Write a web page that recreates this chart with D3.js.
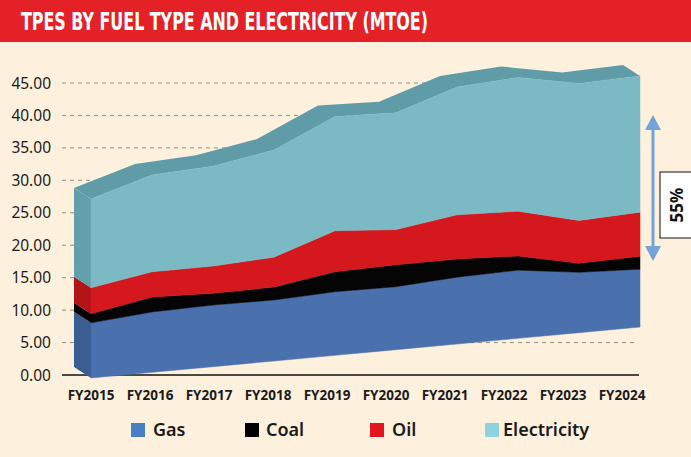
<!DOCTYPE html>
<html>
<head>
<meta charset="utf-8">
<script src="https://cdn.jsdelivr.net/npm/d3@7"></script>
<style>
  html, body { margin: 0; padding: 0; background: #fdf0dc; }
  #chart { width: 691px; height: 457px; }
</style>
</head>
<body>
<div id="chart"></div>
<script>
const categories = ["FY2015", "FY2016", "FY2017", "FY2018", "FY2019", "FY2020", "FY2021", "FY2022", "FY2023", "FY2024"];
const gas = [8.5, 9.3, 9.5, 9.4, 9.8, 9.7, 10.3, 10.5, 9.3, 8.9];
const coal = [1.4, 2.3, 1.8, 2.0, 3.1, 3.4, 2.8, 2.2, 1.4, 2.0];
const oil = [4.0, 3.9, 4.2, 4.6, 6.3, 5.4, 6.8, 6.9, 6.6, 6.8];
const electricity = [13.7, 14.9, 15.4, 16.5, 17.6, 18.0, 19.7, 20.6, 21.1, 21.0];
const yTicks = [0, 5, 10, 15, 20, 25, 30, 35, 40, 45];
const seriesNames = ["Gas", "Coal", "Oil", "Electricity"];
const shareLabel = "55%";
const title = "TPES BY FUEL TYPE AND ELECTRICITY (MTOE)";

const width = 691, height = 457;

const colors = new Map([
  ["Gas", { front: "#4a71ad", side: "#3a5d92" }],
  ["Coal", { front: "#050505", side: "#000000" }],
  ["Oil", { front: "#d5181e", side: "#b31418" }],
  ["Electricity", { front: "#7bbac5", side: "#62a0ab" }],
]);
const legendColors = new Map([
  ["Gas", "#4a7ec4"], ["Coal", "#000"], ["Oil", "#e3161f"], ["Electricity", "#8ed2df"],
]);

const rows = categories.map((c, i) => ({
  cat: c, Gas: gas[i], Coal: coal[i], Oil: oil[i], Electricity: electricity[i],
}));
const stacked = d3.stack().keys(seriesNames)(rows);

const svg = d3.select("#chart").append("svg")
  .attr("width", width).attr("height", height);

svg.append("rect").attr("width", width).attr("height", height).attr("fill", "#fdf0dc");

// header band
svg.append("rect").attr("x", 0).attr("y", 0).attr("width", width).attr("height", 42).attr("fill", "#e32127");
svg.append("text")
  .attr("x", 21).attr("y", 29.5)
  .attr("font-family", "DejaVu Sans Condensed, DejaVu Sans")
  .attr("font-weight", "bold")
  .attr("font-size", 25)
  .attr("fill", "#fff")
  .attr("textLength", 407)
  .attr("lengthAdjust", "spacingAndGlyphs")
  .text(title);

// scales
const y = d3.scaleLinear().domain([0, 45]).range([375, 83]);
const xLabel = d3.scalePoint().domain(categories).range([91, 622]);
const xFront = d3.scalePoint().domain(categories).range([91, 640]);
// tilted floor of the 3d front face
const floor = d3.scaleLinear().domain([0, categories.length - 1]).range([378, 327]);
const depth = { dx: -17, dy: -11 };

const fy = (v, i) => floor(i) + (y(v) - y(0));

// gridlines
svg.append("g")
  .selectAll("line")
  .data(yTicks.filter((t) => t > 0))
  .join("line")
  .attr("x1", 62).attr("x2", 638)
  .attr("y1", (d) => y(d)).attr("y2", (d) => y(d))
  .attr("stroke", "#7a7368")
  .attr("stroke-width", 0.8)
  .attr("stroke-dasharray", "4,4");

svg.append("line")
  .attr("x1", 62).attr("x2", 639)
  .attr("y1", y(0)).attr("y2", y(0))
  .attr("stroke", "#111").attr("stroke-width", 1.5);

// y labels
svg.append("g")
  .selectAll("text")
  .data(yTicks)
  .join("text")
  .attr("x", 51)
  .attr("y", (d) => y(d))
  .attr("dy", "0.36em")
  .attr("text-anchor", "end")
  .attr("font-family", "Noto Sans")
  .attr("font-size", 15.5)
  .attr("fill", "#1b1b1b")
  .text((d) => d3.format(".2f")(d));

// top face of the stack (depth)
const topLayer = stacked[stacked.length - 1];
const frontTop = topLayer.map((d, i) => [xFront(categories[i]), fy(d[1], i)]);
const backTop = frontTop.map(([px, py]) => [px + depth.dx, py + depth.dy]).reverse();
svg.append("path")
  .attr("d", "M" + frontTop.concat(backTop).map((p) => p.join(",")).join("L") + "Z")
  .attr("fill", "#5f9ca7");

// left side face
const x0 = xFront(categories[0]);
svg.append("g")
  .selectAll("path")
  .data(stacked)
  .join("path")
  .attr("fill", (s) => colors.get(s.key).side)
  .attr("d", (s) => {
    const a = fy(s[0][0], 0), b = fy(s[0][1], 0);
    return `M${x0},${a}L${x0},${b}L${x0 + depth.dx},${b + depth.dy}L${x0 + depth.dx},${a + depth.dy}Z`;
  });

// front faces
const area = d3.area()
  .x((d, i) => xFront(categories[i]))
  .y0((d, i) => fy(d[0], i))
  .y1((d, i) => fy(d[1], i));

svg.append("g")
  .selectAll("path")
  .data(stacked)
  .join("path")
  .attr("fill", (s) => colors.get(s.key).front)
  .attr("stroke", (s) => colors.get(s.key).front)
  .attr("stroke-width", 0.5)
  .attr("d", area);

// x labels
svg.append("g")
  .selectAll("text")
  .data(categories)
  .join("text")
  .attr("x", (d) => xLabel(d))
  .attr("y", 400)
  .attr("text-anchor", "middle")
  .attr("font-family", "Open Sans")
  .attr("font-weight", "bold")
  .attr("font-size", 13.5)
  .attr("fill", "#1b1b1b")
  .text((d) => d);

// legend
const legendX = [131, 245, 370, 485];
const lg = svg.append("g")
  .selectAll("g")
  .data(seriesNames)
  .join("g")
  .attr("transform", (d, i) => `translate(${legendX[i]},423)`);
lg.append("rect").attr("width", 14).attr("height", 14).attr("fill", (d) => legendColors.get(d));
lg.append("text")
  .attr("x", (d) => (d === "Electricity" ? 18 : d === "Coal" ? 21 : 22))
  .attr("y", 7).attr("dy", "0.36em")
  .attr("font-family", "Noto Sans")
  .attr("font-weight", 600)
  .attr("font-size", 18)
  .attr("fill", "#1b1b1b")
  .text((d) => d);

// share annotation
const arrowColor = "#73a3d8";
const ax = 653, aTop = 115, aBot = 261;
svg.append("line")
  .attr("x1", ax).attr("x2", ax).attr("y1", aTop + 12).attr("y2", aBot - 12)
  .attr("stroke", arrowColor).attr("stroke-width", 3);
svg.append("path")
  .attr("d", `M${ax},${aTop}L${ax + 8},${aTop + 15}L${ax - 8},${aTop + 15}Z`)
  .attr("fill", arrowColor);
svg.append("path")
  .attr("d", `M${ax},${aBot}L${ax + 8},${aBot - 15}L${ax - 8},${aBot - 15}Z`)
  .attr("fill", arrowColor);
svg.append("rect")
  .attr("x", 660).attr("y", 172).attr("width", 40).attr("height", 66)
  .attr("fill", "#fff").attr("stroke", "#111").attr("stroke-width", 1);
svg.append("text")
  .attr("transform", "translate(677,205) rotate(-90)")
  .attr("text-anchor", "middle")
  .attr("dy", "0.36em")
  .attr("font-family", "Noto Sans")
  .attr("font-weight", "bold")
  .attr("font-size", 17)
  .attr("fill", "#111")
  .text(shareLabel);
</script>
</body>
</html>
